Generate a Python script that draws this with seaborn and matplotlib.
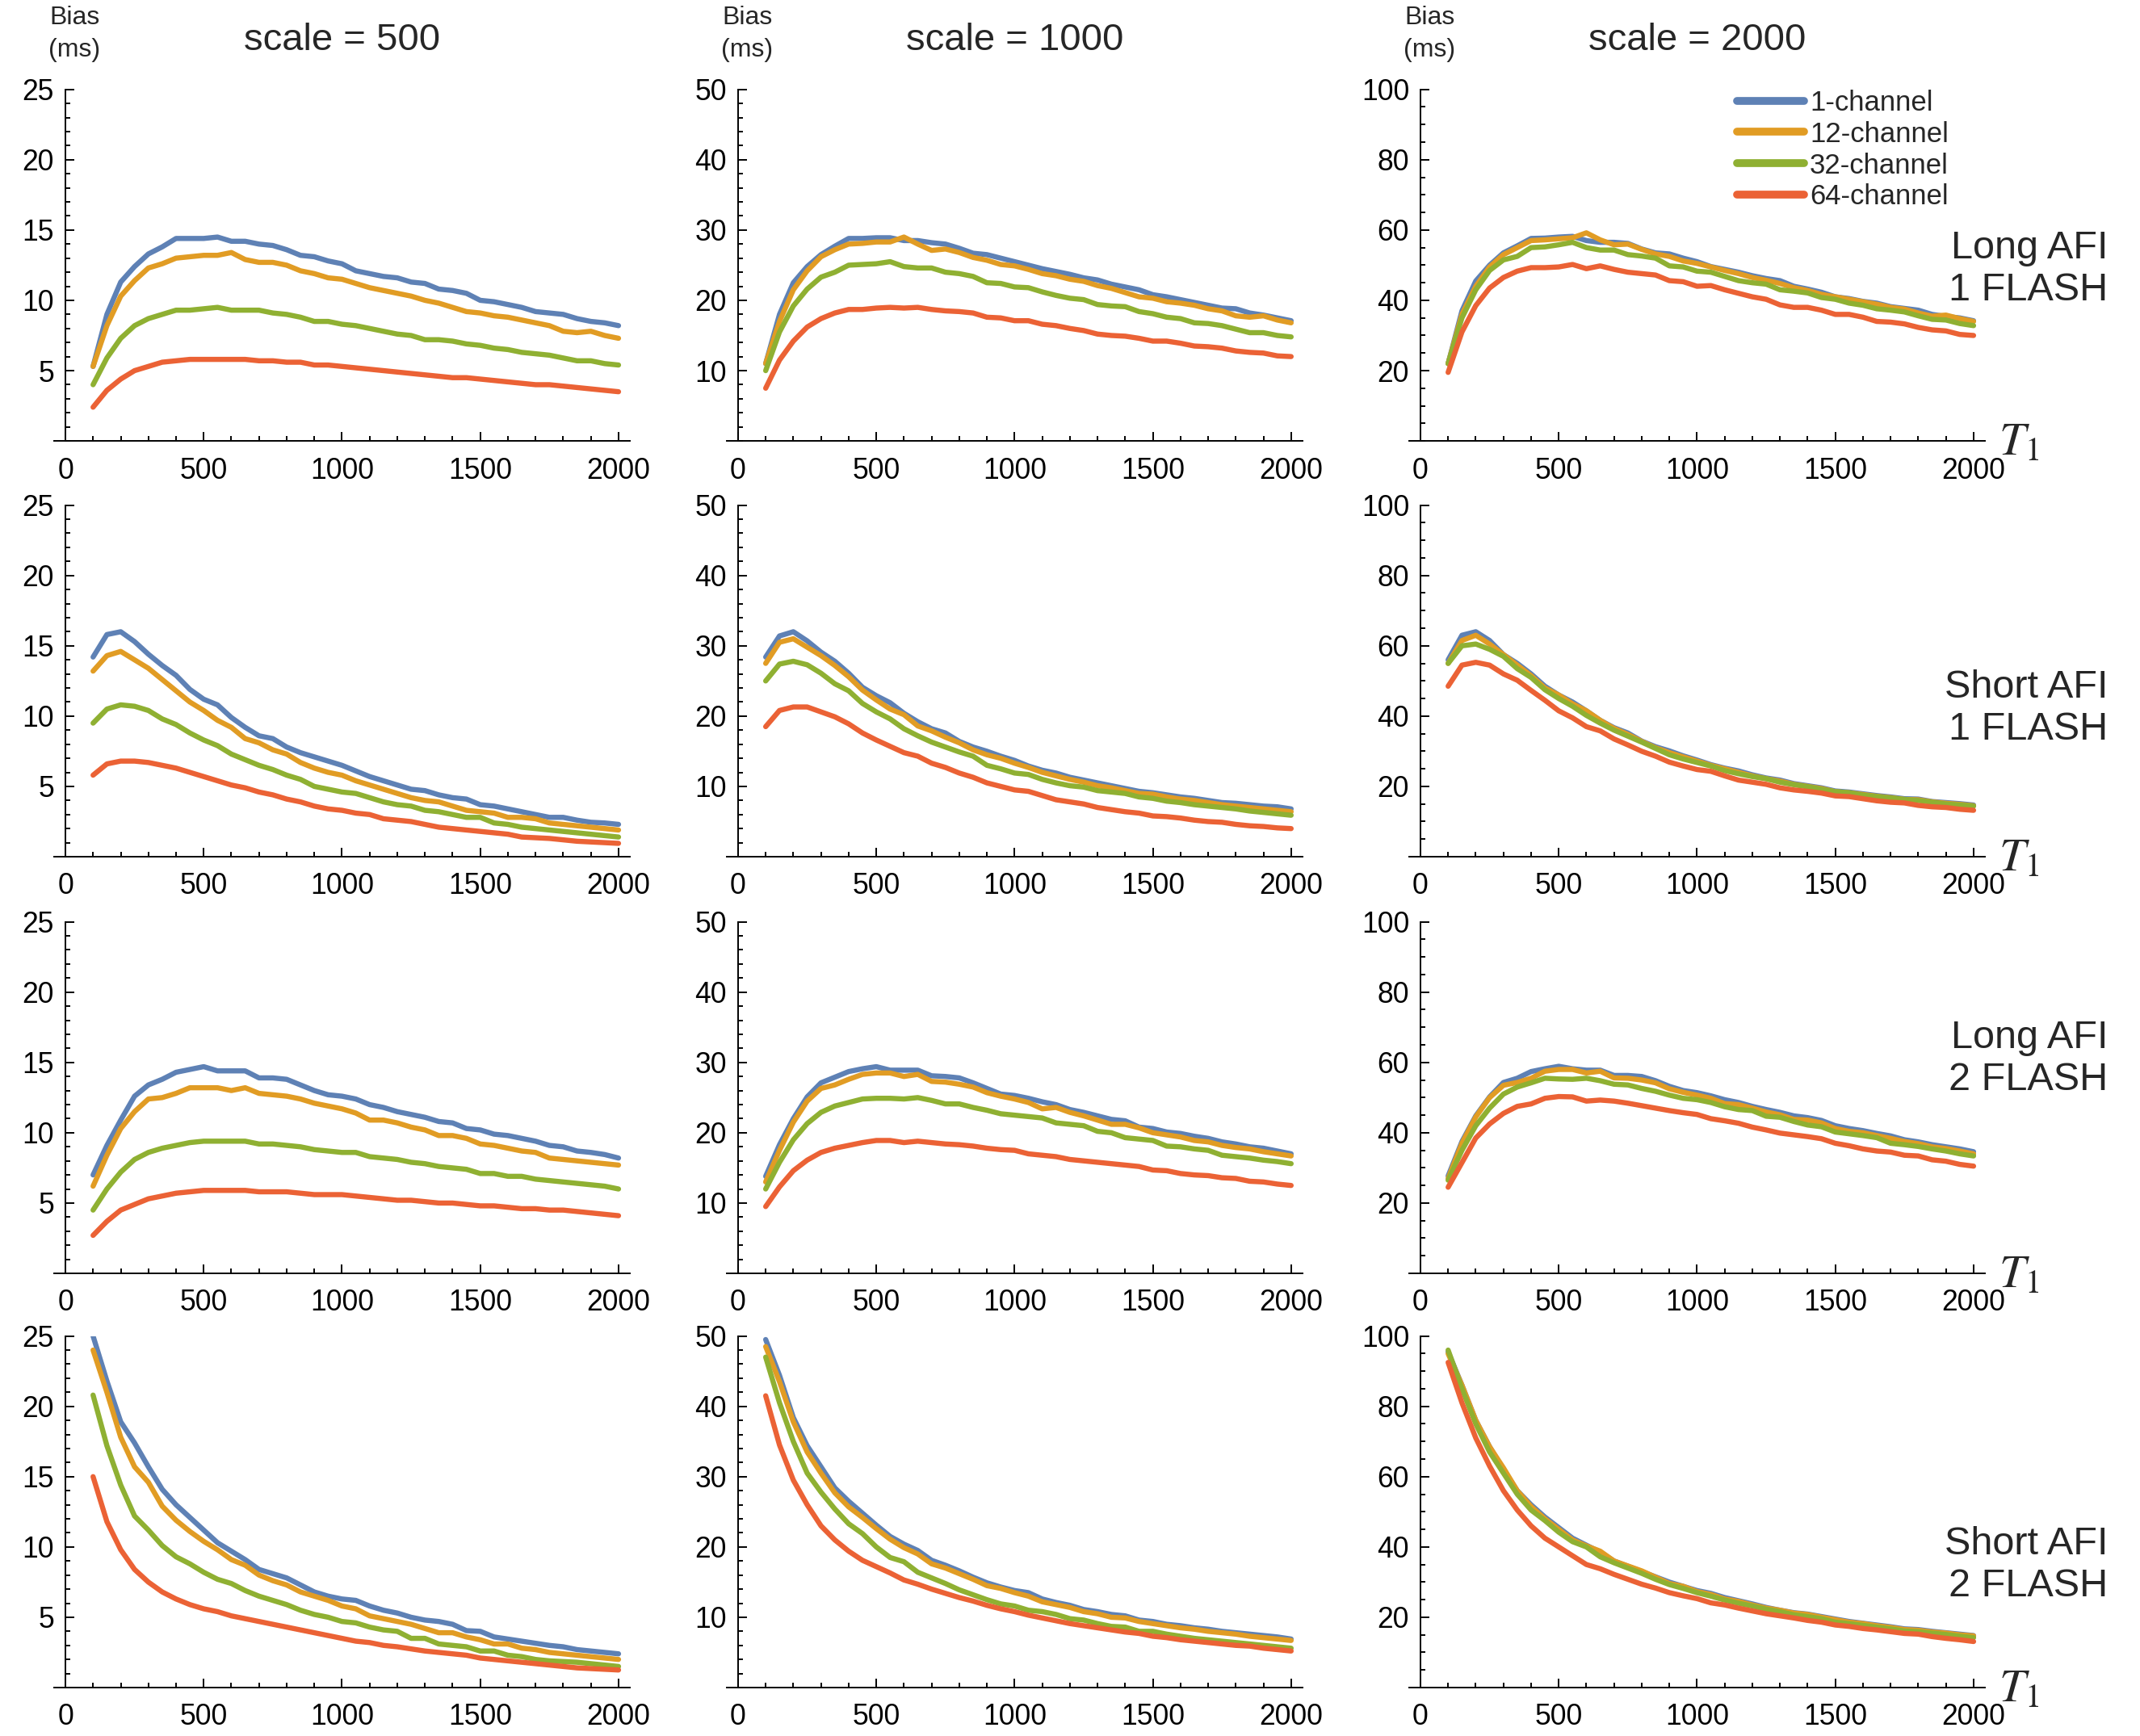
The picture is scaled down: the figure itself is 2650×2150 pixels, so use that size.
import numpy as np
import pandas as pd
import matplotlib
matplotlib.use('Agg')
import matplotlib.pyplot as plt
from matplotlib.ticker import MultipleLocator, FixedLocator
import seaborn as sns

# --- Data ---
t1 = list(range(100, 2001, 50))
coils = ['1-channel', '12-channel', '32-channel', '64-channel']
scales = [500, 1000, 2000]
row_labels = ['Long AFI\n1 FLASH', 'Short AFI\n1 FLASH', 'Long AFI\n2 FLASH', 'Short AFI\n2 FLASH']

long1_500 = [
    [5.3, 9.0, 11.3, 12.4, 13.3, 13.8, 14.4, 14.4, 14.4, 14.5, 14.2, 14.2, 14.0, 13.9, 13.6, 13.2, 13.1, 12.8, 12.6, 12.1,
     11.9, 11.7, 11.6, 11.3, 11.2, 10.8, 10.7, 10.5, 10.0, 9.9, 9.7, 9.5, 9.2, 9.1, 9.0, 8.7, 8.5, 8.4, 8.2],
    [5.3, 8.2, 10.3, 11.4, 12.3, 12.6, 13.0, 13.1, 13.2, 13.2, 13.4, 12.9, 12.7, 12.7, 12.5, 12.1, 11.9, 11.6, 11.5, 11.2,
     10.9, 10.7, 10.5, 10.3, 10.0, 9.8, 9.5, 9.2, 9.1, 8.9, 8.8, 8.6, 8.4, 8.2, 7.8, 7.7, 7.8, 7.5, 7.3],
    [4.0, 5.9, 7.3, 8.2, 8.7, 9.0, 9.3, 9.3, 9.4, 9.5, 9.3, 9.3, 9.3, 9.1, 9.0, 8.8, 8.5, 8.5, 8.3, 8.2,
     8.0, 7.8, 7.6, 7.5, 7.2, 7.2, 7.1, 6.9, 6.8, 6.6, 6.5, 6.3, 6.2, 6.1, 5.9, 5.7, 5.7, 5.5, 5.4],
    [2.4, 3.6, 4.4, 5.0, 5.3, 5.6, 5.7, 5.8, 5.8, 5.8, 5.8, 5.8, 5.7, 5.7, 5.6, 5.6, 5.4, 5.4, 5.3, 5.2,
     5.1, 5.0, 4.9, 4.8, 4.7, 4.6, 4.5, 4.5, 4.4, 4.3, 4.2, 4.1, 4.0, 4.0, 3.9, 3.8, 3.7, 3.6, 3.5],
]
long1_1000 = [
    [11, 18, 22.5, 24.8, 26.5, 27.7, 28.8, 28.8, 28.9, 28.9, 28.5, 28.5, 28.2, 28.0, 27.4, 26.7, 26.5, 26.0, 25.5, 25.0,
     24.5, 24.1, 23.7, 23.2, 22.9, 22.3, 21.9, 21.5, 20.8, 20.5, 20.1, 19.7, 19.3, 18.9, 18.8, 18.2, 17.9, 17.5, 17.1],
    [11, 17, 21.5, 24.2, 26.2, 27.2, 28.0, 28.1, 28.3, 28.3, 29.0, 28.0, 27.1, 27.3, 26.8, 26.1, 25.7, 25.1, 24.9, 24.4,
     23.8, 23.5, 23.0, 22.7, 22.1, 21.7, 21.1, 20.5, 20.3, 19.8, 19.6, 19.3, 18.8, 18.5, 17.8, 17.6, 17.8, 17.2, 16.8],
    [10, 15.5, 19.2, 21.6, 23.3, 24.0, 25.0, 25.1, 25.2, 25.5, 24.8, 24.6, 24.6, 24.0, 23.8, 23.4, 22.5, 22.4, 21.9, 21.8,
     21.2, 20.7, 20.3, 20.1, 19.4, 19.2, 19.1, 18.4, 18.1, 17.6, 17.4, 16.8, 16.7, 16.4, 15.9, 15.4, 15.4, 15.0, 14.8],
    [7.5, 11.5, 14.2, 16.2, 17.4, 18.2, 18.7, 18.7, 18.9, 19.0, 18.9, 19.0, 18.7, 18.5, 18.4, 18.2, 17.6, 17.5, 17.1, 17.1,
     16.6, 16.4, 16.0, 15.7, 15.2, 15.0, 14.9, 14.6, 14.2, 14.2, 13.9, 13.5, 13.4, 13.2, 12.8, 12.6, 12.5, 12.1, 12.0],
]
long1_2000 = [
    [22, 37, 45.5, 50, 53.5, 55.5, 57.6, 57.7, 58.0, 58.2, 57.0, 56.5, 56.5, 56.2, 54.6, 53.5, 53.2, 52.0, 51.0, 49.6,
     48.8, 48.0, 47.0, 46.2, 45.6, 44.0, 43.2, 42.3, 41.0, 40.5, 39.7, 39.2, 38.2, 37.7, 37.2, 36.0, 35.4, 35.0, 34.2],
    [22, 36, 44, 49.5, 53, 55, 57, 57.2, 57.5, 57.8, 59.2, 57.2, 55.8, 56.0, 54.5, 53.2, 52.5, 51.2, 50.5, 49.5,
     48.5, 47.6, 46.5, 45.7, 44.8, 43.6, 42.8, 41.7, 41.0, 40.3, 39.6, 38.9, 38.0, 37.5, 36.4, 35.5, 35.8, 34.8, 34.0],
    [22, 35, 43, 48.5, 51.5, 52.5, 55, 55.2, 55.8, 56.5, 55.0, 54.3, 54.3, 53.0, 52.6, 52.0, 49.8, 49.5, 48.3, 48.0,
     46.8, 45.6, 45.0, 44.6, 43.0, 42.6, 42.1, 40.8, 40.3, 39.2, 38.6, 37.6, 37.2, 36.7, 35.6, 34.6, 34.4, 33.4, 32.8],
    [19.5, 31, 38.5, 43.5, 46.5, 48.3, 49.3, 49.3, 49.5, 50.2, 49.0, 49.8, 48.8, 48.0, 47.6, 47.2, 45.6, 45.3, 44.0, 44.2,
     43.0, 42.0, 41.0, 40.3, 38.7, 38.0, 38.0, 37.2, 36.0, 36.0, 35.2, 34.0, 33.8, 33.3, 32.3, 31.6, 31.3, 30.3, 30.0],
]
short1_500 = [
    [14.2, 15.8, 16.0, 15.3, 14.4, 13.6, 12.9, 11.9, 11.2, 10.8, 9.9, 9.2, 8.6, 8.4, 7.8, 7.4, 7.1, 6.8, 6.5, 6.1,
     5.7, 5.4, 5.1, 4.8, 4.7, 4.4, 4.2, 4.1, 3.7, 3.6, 3.4, 3.2, 3.0, 2.8, 2.8, 2.6, 2.45, 2.4, 2.3],
    [13.2, 14.3, 14.6, 14.0, 13.4, 12.6, 11.8, 11.0, 10.4, 9.7, 9.2, 8.4, 8.1, 7.6, 7.3, 6.7, 6.3, 6.0, 5.8, 5.4,
     5.1, 4.8, 4.5, 4.2, 4.0, 3.9, 3.6, 3.3, 3.2, 3.1, 2.8, 2.8, 2.7, 2.4, 2.3, 2.2, 2.1, 2.0, 1.9],
    [9.5, 10.5, 10.8, 10.7, 10.4, 9.8, 9.4, 8.8, 8.3, 7.9, 7.3, 6.9, 6.5, 6.2, 5.8, 5.5, 5.0, 4.8, 4.6, 4.5,
     4.2, 3.9, 3.7, 3.6, 3.3, 3.2, 3.0, 2.8, 2.8, 2.4, 2.3, 2.1, 2.0, 1.9, 1.8, 1.7, 1.6, 1.5, 1.4],
    [5.8, 6.6, 6.8, 6.8, 6.7, 6.5, 6.3, 6.0, 5.7, 5.4, 5.1, 4.9, 4.6, 4.4, 4.1, 3.9, 3.6, 3.4, 3.3, 3.1,
     3.0, 2.7, 2.6, 2.5, 2.3, 2.1, 2.0, 1.9, 1.8, 1.7, 1.6, 1.4, 1.35, 1.3, 1.2, 1.1, 1.05, 1.0, 0.95],
]
short1_1000 = [
    [28.4, 31.4, 32.0, 30.7, 29.1, 27.8, 26.1, 24.1, 22.9, 21.9, 20.4, 19.2, 18.2, 17.6, 16.4, 15.6, 15.0, 14.3, 13.7, 12.9,
     12.3, 11.9, 11.3, 10.9, 10.5, 10.1, 9.7, 9.3, 9.1, 8.8, 8.5, 8.3, 8.0, 7.7, 7.6, 7.4, 7.2, 7.1, 6.8],
    [27.5, 30.5, 31.0, 29.8, 28.6, 27.2, 25.6, 23.7, 22.3, 21.0, 20.2, 18.6, 17.9, 17.0, 16.2, 15.2, 14.5, 14.0, 13.3, 12.7,
     12.0, 11.5, 11.0, 10.6, 10.1, 9.8, 9.4, 9.0, 8.9, 8.5, 8.2, 8.0, 7.7, 7.4, 7.2, 7.0, 6.8, 6.6, 6.4],
    [25.0, 27.4, 27.8, 27.3, 26.1, 24.6, 23.6, 21.8, 20.6, 19.6, 18.2, 17.2, 16.3, 15.6, 14.9, 14.3, 13.0, 12.5, 11.9, 11.7,
     11.0, 10.5, 10.1, 9.9, 9.4, 9.2, 9.0, 8.5, 8.3, 7.9, 7.7, 7.4, 7.2, 7.0, 6.8, 6.5, 6.3, 6.1, 5.9],
    [18.5, 20.8, 21.3, 21.3, 20.6, 19.9, 18.9, 17.6, 16.6, 15.7, 14.8, 14.3, 13.3, 12.7, 11.9, 11.3, 10.5, 10.0, 9.5, 9.3,
     8.7, 8.1, 7.8, 7.5, 7.0, 6.7, 6.4, 6.2, 5.8, 5.7, 5.5, 5.2, 5.0, 4.9, 4.6, 4.4, 4.3, 4.1, 4.0],
]
short1_2000 = [
    [56, 63, 64, 61.5, 57.5, 55, 52, 48.5, 46, 44, 41.5, 38.8, 36.7, 35.2, 32.9, 31.3, 30.1, 28.7, 27.5, 26.2,
     25.2, 24.4, 23.3, 22.4, 21.8, 20.8, 20.2, 19.6, 18.7, 18.4, 17.9, 17.4, 17.0, 16.5, 16.4, 15.7, 15.4, 15.1, 14.7],
    [55, 61.5, 63, 60.5, 57.5, 54.5, 51.5, 48.0, 46.0, 43.5, 41.5, 38.8, 36.5, 34.8, 32.8, 31.0, 29.6, 28.4, 27.2, 26.0,
     25.0, 24.0, 23.0, 22.2, 21.5, 20.6, 20.0, 19.4, 18.5, 18.2, 17.7, 17.2, 16.8, 16.3, 16.2, 15.6, 15.2, 14.9, 14.5],
    [55, 60, 60.5, 59, 57, 53.5, 51, 47.5, 45, 42.8, 40.2, 38, 36, 34.3, 32.6, 30.8, 29, 27.8, 26.8, 25.8,
     24.5, 23.6, 22.8, 22.2, 21.2, 20.5, 19.9, 19.2, 18.5, 18.2, 17.5, 17.1, 16.7, 16.3, 16.0, 15.5, 15.0, 14.7, 14.4],
    [48.5, 54.5, 55.3, 54.5, 52, 50.2, 47.3, 44.5, 41.5, 39.5, 37, 35.8, 33.5, 31.8, 30, 28.6, 26.9, 25.8, 24.8, 24.3,
     23.0, 21.8, 21.2, 20.6, 19.6, 19.0, 18.6, 18.1, 17.3, 17.1, 16.5, 15.9, 15.5, 15.3, 14.6, 14.2, 14.0, 13.5, 13.2],
]
long2_500 = [
    [7.0, 9.1, 10.9, 12.6, 13.4, 13.8, 14.3, 14.5, 14.7, 14.4, 14.4, 14.4, 13.9, 13.9, 13.8, 13.4, 13.0, 12.7, 12.6, 12.4,
     12.0, 11.8, 11.5, 11.3, 11.1, 10.8, 10.7, 10.3, 10.2, 9.9, 9.8, 9.6, 9.4, 9.1, 9.0, 8.7, 8.6, 8.45, 8.2],
    [6.2, 8.4, 10.3, 11.5, 12.4, 12.5, 12.8, 13.2, 13.2, 13.2, 13.0, 13.2, 12.8, 12.7, 12.6, 12.4, 12.1, 11.9, 11.7, 11.4,
     10.9, 10.9, 10.7, 10.4, 10.2, 9.8, 9.8, 9.6, 9.2, 9.1, 8.9, 8.7, 8.6, 8.2, 8.1, 8.0, 7.9, 7.8, 7.7],
    [4.5, 6.0, 7.2, 8.1, 8.6, 8.9, 9.1, 9.3, 9.4, 9.4, 9.4, 9.4, 9.2, 9.2, 9.1, 9.0, 8.8, 8.7, 8.6, 8.6,
     8.3, 8.2, 8.1, 7.9, 7.8, 7.6, 7.5, 7.4, 7.1, 7.1, 6.9, 6.9, 6.7, 6.6, 6.5, 6.4, 6.3, 6.2, 6.0],
    [2.7, 3.7, 4.5, 4.9, 5.3, 5.5, 5.7, 5.8, 5.9, 5.9, 5.9, 5.9, 5.8, 5.8, 5.8, 5.7, 5.6, 5.6, 5.6, 5.5,
     5.4, 5.3, 5.2, 5.2, 5.1, 5.0, 5.0, 4.9, 4.8, 4.8, 4.7, 4.6, 4.6, 4.5, 4.5, 4.4, 4.3, 4.2, 4.1],
]
long2_1000 = [
    [13.8, 18.3, 22.0, 25.1, 27.1, 27.9, 28.7, 29.1, 29.4, 28.9, 28.9, 28.9, 28.1, 28.0, 27.8, 27.1, 26.3, 25.5, 25.3, 24.9,
     24.4, 24.0, 23.3, 22.9, 22.4, 21.9, 21.7, 20.8, 20.6, 20.1, 19.9, 19.5, 19.2, 18.7, 18.4, 18.0, 17.8, 17.4, 17.0],
    [13.0, 17.5, 21.5, 24.5, 26.3, 26.8, 27.6, 28.3, 28.5, 28.5, 28.0, 28.3, 27.3, 27.2, 26.9, 26.5, 25.7, 25.2, 24.8, 24.3,
     23.4, 23.6, 22.9, 22.4, 21.8, 21.2, 21.2, 20.7, 20.0, 19.7, 19.4, 18.9, 18.7, 18.2, 17.9, 17.7, 17.3, 17.0, 16.7],
    [12.0, 15.8, 19.0, 21.3, 22.9, 23.8, 24.3, 24.8, 24.9, 24.9, 24.8, 25.0, 24.6, 24.1, 24.1, 23.6, 23.2, 22.7, 22.5, 22.3,
     22.1, 21.4, 21.2, 21.0, 20.2, 20.0, 19.3, 19.1, 18.9, 18.1, 18.0, 17.7, 17.5, 16.8, 16.6, 16.4, 16.1, 15.9, 15.6],
    [9.5, 12.3, 14.6, 16.1, 17.2, 17.8, 18.2, 18.6, 18.9, 18.9, 18.6, 18.8, 18.6, 18.4, 18.3, 18.1, 17.8, 17.6, 17.5, 17.0,
     16.8, 16.6, 16.2, 16.0, 15.8, 15.6, 15.4, 15.2, 14.7, 14.6, 14.2, 14.0, 13.9, 13.6, 13.5, 13.1, 13.0, 12.7, 12.5],
]
long2_2000 = [
    [27.7, 37.5, 44.8, 50.2, 54.3, 55.5, 57.4, 58.2, 58.9, 58.2, 57.8, 57.8, 56.3, 56.3, 56.0, 54.8, 53.2, 52.0, 51.4, 50.5,
     49.4, 48.6, 47.5, 46.6, 45.8, 44.8, 44.3, 43.5, 42.0, 41.2, 40.6, 39.8, 39.1, 38.0, 37.4, 36.6, 36.0, 35.4, 34.6],
    [27, 37, 44.5, 50, 53.5, 54.3, 55.5, 57.5, 58.0, 58.0, 57.0, 57.5, 55.6, 55.5, 55.0, 54.2, 52.5, 51.5, 50.7, 49.8,
     48.3, 48.0, 47.0, 45.9, 45.1, 43.8, 43.6, 42.8, 41.2, 40.4, 40.0, 39.2, 38.4, 37.5, 36.9, 36.0, 35.5, 34.8, 34.0],
    [26.5, 35, 42, 47, 51, 53, 54.2, 55.5, 55.3, 55.2, 55.5, 54.8, 53.8, 53.6, 52.6, 51.8, 50.7, 49.8, 49.4, 48.6,
     47.4, 46.6, 46.3, 44.7, 44.4, 43.2, 42.2, 41.7, 40.2, 39.7, 39.2, 38.6, 37.0, 36.6, 36.1, 35.4, 34.8, 34.0, 33.4],
    [24.5, 31.5, 38.5, 42.5, 45.5, 47.5, 48.2, 49.8, 50.3, 50.2, 49.0, 49.3, 49.0, 48.4, 47.7, 47.0, 46.3, 45.7, 45.2, 44.0,
     43.4, 42.7, 41.6, 40.8, 39.9, 39.4, 38.9, 38.3, 37.0, 36.3, 35.4, 34.8, 34.5, 33.6, 33.4, 32.3, 31.9, 31.0, 30.5],
]
short2_500 = [
    [25.0, 21.8, 18.9, 17.4, 15.7, 14.1, 13.0, 12.1, 11.2, 10.3, 9.7, 9.1, 8.4, 8.1, 7.8, 7.3, 6.8, 6.5, 6.3, 6.2,
     5.8, 5.5, 5.3, 5.0, 4.8, 4.7, 4.5, 4.05, 4.0, 3.6, 3.45, 3.3, 3.15, 3.0, 2.9, 2.7, 2.6, 2.5, 2.4],
    [24.0, 21.0, 17.8, 15.7, 14.6, 12.9, 11.9, 11.1, 10.4, 9.8, 9.1, 8.7, 8.0, 7.6, 7.3, 6.8, 6.5, 6.2, 5.8, 5.6,
     5.1, 4.9, 4.7, 4.5, 4.2, 3.9, 3.9, 3.6, 3.4, 3.1, 3.1, 2.8, 2.7, 2.5, 2.4, 2.3, 2.2, 2.1, 2.0],
    [20.8, 17.2, 14.4, 12.2, 11.2, 10.1, 9.3, 8.8, 8.2, 7.7, 7.4, 6.9, 6.5, 6.2, 5.9, 5.5, 5.2, 5.0, 4.7, 4.6,
     4.3, 4.1, 4.0, 3.5, 3.5, 3.1, 3.0, 2.9, 2.6, 2.6, 2.3, 2.2, 2.0, 1.9, 1.85, 1.8, 1.7, 1.6, 1.5],
    [15.0, 11.8, 9.8, 8.4, 7.5, 6.8, 6.3, 5.9, 5.6, 5.4, 5.1, 4.9, 4.7, 4.5, 4.3, 4.1, 3.9, 3.7, 3.5, 3.3,
     3.2, 3.0, 2.9, 2.75, 2.6, 2.5, 2.4, 2.3, 2.1, 2.0, 1.9, 1.8, 1.7, 1.6, 1.5, 1.4, 1.35, 1.3, 1.25],
]
short2_1000 = [
    [49.5, 44.4, 38.4, 34.4, 31.4, 28.4, 26.5, 24.8, 23.1, 21.5, 20.4, 19.5, 18.1, 17.4, 16.6, 15.7, 14.9, 14.3, 13.8, 13.5,
     12.6, 12.1, 11.7, 11.1, 10.8, 10.4, 10.2, 9.6, 9.4, 9.0, 8.8, 8.5, 8.3, 8.0, 7.8, 7.6, 7.4, 7.2, 6.9],
    [48.5, 43.5, 37.8, 33.5, 30.5, 27.7, 25.7, 24.2, 22.6, 21.1, 19.9, 19.0, 17.6, 17.0, 16.2, 15.4, 14.5, 14.1, 13.5, 13.0,
     12.2, 11.8, 11.4, 10.8, 10.5, 10.0, 9.9, 9.4, 9.1, 8.8, 8.5, 8.3, 8.0, 7.8, 7.6, 7.3, 7.1, 6.9, 6.7],
    [47.0, 40.5, 35.0, 30.5, 27.8, 25.4, 23.3, 21.9, 20.0, 18.5, 17.9, 16.4, 15.6, 14.8, 13.9, 13.2, 12.5, 11.9, 11.6, 11.0,
     10.8, 10.4, 9.8, 9.6, 9.1, 8.7, 8.6, 8.0, 8.0, 7.6, 7.3, 7.0, 6.8, 6.6, 6.4, 6.2, 6.0, 5.8, 5.6],
    [41.5, 34.5, 29.5, 26.0, 23.0, 21.0, 19.4, 18.1, 17.2, 16.3, 15.3, 14.7, 14.0, 13.4, 12.8, 12.3, 11.7, 11.2, 10.8, 10.3,
     9.9, 9.5, 9.1, 8.8, 8.5, 8.2, 7.9, 7.7, 7.3, 7.1, 6.8, 6.6, 6.4, 6.2, 6.0, 5.9, 5.6, 5.4, 5.2],
]
short2_2000 = [
    [95.5, 86, 76, 68.5, 62, 56, 52, 48.5, 45.5, 42.5, 40.5, 38.5, 36, 34.5, 33, 31.5, 30, 28.8, 27.6, 26.8,
     25.6, 24.7, 23.8, 22.8, 22.0, 21.3, 20.9, 20.2, 19.5, 18.8, 18.3, 17.8, 17.3, 16.7, 16.5, 16.0, 15.6, 15.2, 14.8],
    [95, 86, 76, 68.5, 62.5, 56, 51.5, 48, 45, 42, 40.3, 38.8, 36, 34.6, 33.2, 31.4, 29.6, 28.8, 27.3, 26.5,
     25.2, 24.5, 23.5, 22.6, 22.0, 21.2, 20.8, 20.0, 19.3, 18.6, 18.2, 17.6, 17.1, 16.5, 16.3, 15.8, 15.5, 15.0, 14.7],
    [96, 85, 75, 67, 61, 55, 50.5, 47.5, 44.2, 41.5, 40.0, 37.2, 35.5, 34.0, 32.5, 30.8, 29.3, 28.2, 27.0, 26.0,
     24.9, 24.0, 23.2, 22.3, 21.6, 20.7, 20.2, 19.6, 18.6, 18.2, 17.7, 17.2, 16.7, 16.1, 15.9, 15.5, 15.1, 14.6, 14.2],
    [92.5, 81, 71, 63, 56, 50.5, 46, 42.5, 40, 37.5, 35, 33.8, 32.2, 30.8, 29.4, 28.3, 27.0, 26.1, 25.3, 24.1,
     23.5, 22.6, 21.8, 21.0, 20.4, 19.8, 19.1, 18.6, 17.8, 17.4, 16.8, 16.4, 15.9, 15.4, 15.2, 14.5, 14.0, 13.6, 13.1],
]

panels = [
    [long1_500, long1_1000, long1_2000],
    [short1_500, short1_1000, short1_2000],
    [long2_500, long2_1000, long2_2000],
    [short2_500, short2_1000, short2_2000],
]

# --- Style ---
colors = ['#5E81B5', '#E19C24', '#8FB032', '#EB6235']
ymax = [25, 50, 100]
ymajor = [5, 10, 20]
yminor = [1, 2, 5]

sns.set_theme(style='ticks')
plt.rcParams['font.family'] = ['Liberation Sans', 'DejaVu Sans']
plt.rcParams['axes.edgecolor'] = 'black'
plt.rcParams['xtick.color'] = 'black'
plt.rcParams['ytick.color'] = 'black'

fig = plt.figure(figsize=(13.25, 10.75), dpi=200)

col_left = [0.0254, 0.3397, 0.6586]
row_bottom = [0.7460, 0.5065, 0.2665, 0.0279]
ax_w, ax_h = 0.2688, 0.2025
label_y = [0.845, 0.592, 0.390, 0.0986]

for i in range(4):
    for j in range(3):
        ax = fig.add_axes([col_left[j], row_bottom[i], ax_w, ax_h])
        series = panels[i][j]
        for k, s in enumerate(series):
            if len(s) != len(t1):
                print(f"[WARN] panel {i},{j} series {k} has {len(s)} values")
        df = pd.DataFrame({
            'T1': np.concatenate([t1[:len(s)] for s in series]),
            'bias': np.concatenate(series),
            'coil': np.concatenate([[c] * len(s) for c, s in zip(coils, series)]),
        })
        sns.lineplot(data=df, x='T1', y='bias', hue='coil', hue_order=coils,
                     palette=colors, lw=2.3, ax=ax, legend=False,
                     estimator=None, sort=False)

        ax.set_xlim(-40, 2040)
        ax.set_ylim(0, ymax[j])
        ax.spines['top'].set_visible(False)
        ax.spines['right'].set_visible(False)
        ax.spines['left'].set_position(('data', 0))
        ax.spines['left'].set_linewidth(0.7)
        ax.spines['bottom'].set_linewidth(0.7)
        ax.xaxis.set_major_locator(FixedLocator([0, 500, 1000, 1500, 2000]))
        ax.xaxis.set_minor_locator(MultipleLocator(100))
        ax.yaxis.set_major_locator(FixedLocator(list(range(ymajor[j], ymax[j] + 1, ymajor[j]))))
        ax.yaxis.set_minor_locator(MultipleLocator(yminor[j]))
        ax.tick_params(which='both', direction='in', width=0.7)
        ax.tick_params(which='major', length=4, labelsize=12.8)
        ax.tick_params(which='minor', length=2.2)
        ax.tick_params(axis='x', which='major', pad=7)
        ax.tick_params(axis='y', which='major', pad=5)
        ax.set_xlabel('')
        ax.set_ylabel('')

        if i == 0:
            ax.text(0.035, 1.158, 'Bias\n(ms)', transform=ax.transAxes,
                    ha='center', va='center', fontsize=11.5, linespacing=1.45)
            ax.text(0.5, 1.14, f'scale = {scales[j]}', transform=ax.transAxes,
                    ha='center', va='center', fontsize=17)
        if j == 2:
            ax.text(1.025, -0.005, r'$T_1$', transform=ax.transAxes, ha='left',
                    va='center', fontsize=21, math_fontfamily='stix')
            fig.text(0.985, label_y[i], row_labels[i], ha='right', va='center',
                     fontsize=17.5, multialignment='right', linespacing=1.2)
        if i == 0 and j == 2:
            leg = ax.legend(ax.lines[:4], coils, loc='upper left',
                            bbox_to_anchor=(0.569, 1.0), frameon=False,
                            fontsize=12.5, handlelength=2.4, handletextpad=0.2,
                            labelspacing=0.17, borderpad=0, borderaxespad=0)
            for h in leg.get_lines():
                h.set_linewidth(3.5)

fig.savefig('out.png', dpi=200)
